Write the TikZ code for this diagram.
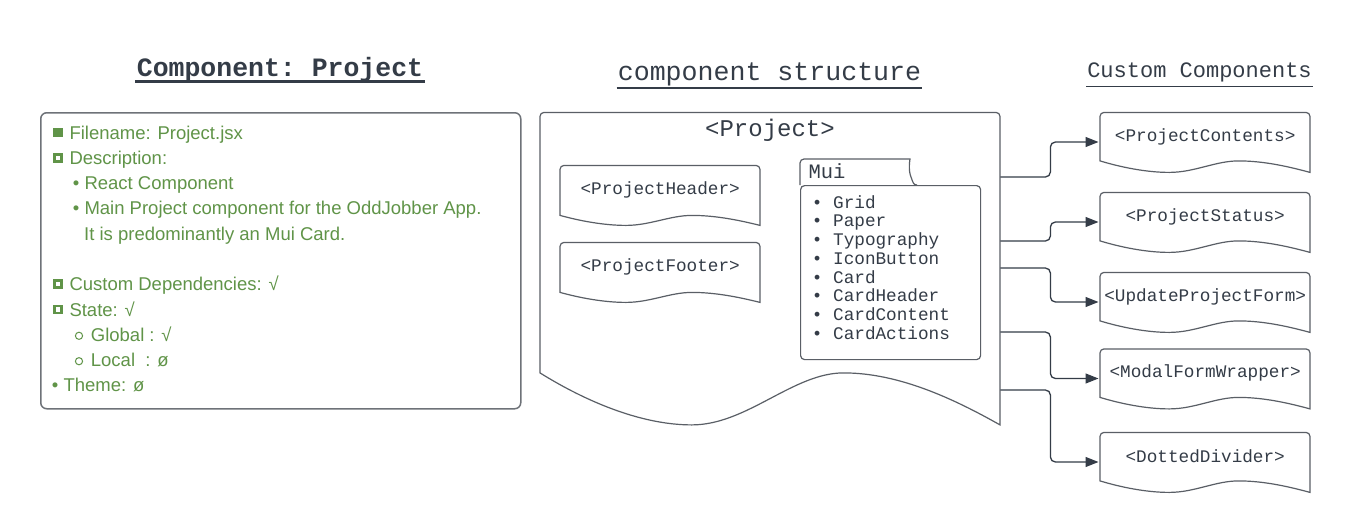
\documentclass[tikz,border=0pt]{standalone}
\usepackage{fontspec}
\setmainfont{Liberation Sans}
\setmonofont{Liberation Mono}
\usetikzlibrary{arrows.meta,calc}
\definecolor{ink}{RGB}{52,60,71}
\definecolor{grn}{RGB}{96,148,72}
\definecolor{edge}{RGB}{90,95,102}
\definecolor{frame}{RGB}{110,114,120}
\tikzset{
  docline/.style={draw=edge,line width=1.2pt},
  docnode/.style={inner sep=0pt,font=\fontsize{17.7}{20}\ttfamily,text=ink},
  conn/.style={draw=ink,line width=1.3pt,rounded corners=5pt,-{Triangle[length=13pt,width=10pt]}},
  info/.style={text=grn,font=\fontsize{18.5}{22}\selectfont,anchor=base west,inner sep=0pt},
  muiitem/.style={text=ink,font=\fontsize{17.7}{20}\ttfamily,anchor=base west,inner sep=0pt},
  headline/.style={text=ink,inner sep=0pt,anchor=base},
  marker/.style={grn},
  hollow/.style={draw=grn,line width=2.6pt},
}
\newcommand\docbox[7]{%
  \node[docnode,minimum width=#4pt,minimum height=#5pt,anchor=north west] (#1) at (#2,#3) {#7};
  \begin{scope}[shift={(#1.south west)}]
    \draw[docline] (0,0) [rounded corners=4pt] -- (0,-#5) -- (#4,-#5) [sharp corners] -- (#4,#6)
      .. controls (0.9*#4,0.5*#6) and (0.78*#4,0) .. (0.66*#4,0)
      .. controls (0.55*#4,0) and (0.45*#4,#6) .. (0.33*#4,#6)
      .. controls (0.22*#4,#6) and (0.1*#4,0.55*#6) .. (0,0) -- cycle;
  \end{scope}}
\begin{document}
\begin{tikzpicture}[x=1pt,y=-1pt]
\useasboundingbox[fill=white] (0,0) rectangle (1360,531);

% ---------- headings ----------
\node[headline,font=\fontsize{26.5}{30}\ttfamily\bfseries] (title) at (280,76) {Component: Project};
\draw[ink,line width=2.7pt] ($(title.base west)+(-1.5,5.3)$) -- ($(title.base east)+(1.5,5.3)$);
\node[headline,font=\fontsize{26.6}{30}\ttfamily] (cs) at (769.5,80) {component structure};
\draw[ink,line width=1.5pt] ($(cs.base west)+(-1,8)$) -- ($(cs.base east)+(1,8)$);
\node[headline,font=\fontsize{22}{26}\ttfamily] (cc) at (1199.5,77) {Custom Components};
\draw[ink,line width=1.5pt] ($(cc.base west)+(-1,9.5)$) -- ($(cc.base east)+(1,9.5)$);

% ---------- info box ----------
\node[draw=frame,line width=1.5pt,rounded corners=6pt,minimum width=480pt,minimum height=296pt,anchor=north west,inner sep=0pt] (infobox) at (40,112) {};
\fill[marker] (53,127.8) rectangle (62.5,137.3);
\node[info] (l1) at (69.3,139) {Filename: Project.jsx};
\draw[hollow] (54.3,154.3) rectangle (61.3,161.3);
\node[info] (l2) at (69.3,164.4) {Description:};
\node[info] (l3) at (72.7,189.6) {•\ React Component};
\node[info] (l4) at (72.7,214.8) {•\ Main Project component for the OddJobber App.};
\node[info] (l5) at (84,240.1) {It is predominantly an Mui Card.};
\draw[hollow] (54.3,280.7) rectangle (61.3,287.7);
\node[info] (l6) at (69.3,290.8) {Custom Dependencies: √};
\draw[hollow] (54.3,305.9) rectangle (61.3,312.9);
\node[info] (l7) at (69.3,316) {State: √};
\draw[grn,line width=1pt] (79,335.8) circle (3.6);
\node[info] (l8) at (90.7,341.2) {Global : √};
\draw[grn,line width=1pt] (79,361.2) circle (3.6);
\node[info] (l9) at (90.7,366.5) {Local\ \ : ø};
\node[info] (l10) at (51.7,391.8) {•\ Theme: ø};

% ---------- component structure ----------
\docbox{proj}{540}{112}{460}{260.5}{52}{}
\node[headline,font=\fontsize{24}{28}\ttfamily] (projtitle) at (770,136) {<Project>};
\docbox{ph}{560}{165}{200}{50}{10}{<ProjectHeader>}
\docbox{pf}{560}{242}{200}{50}{10}{<ProjectFooter>}

% Mui folder
\node[draw=edge,line width=1.2pt,rounded corners=4pt,minimum width=180pt,minimum height=174pt,anchor=north west,inner sep=0pt] (mui) at (800,185) {};
\draw[docline] (mui.north west) [rounded corners=4pt] -- ++(0,-26) -- ++(106,0) [sharp corners]
  .. controls ++(4,0) and ++(-3,-7) .. ++(5,18) .. controls ++(2,5) and ++(-4,0) .. ++(6,8);
\node[muiitem,font=\fontsize{20.5}{24}\ttfamily] (muititle) at (808.3,178.3) {Mui};
\foreach \t [count=\i from 0] in {Grid,Paper,Typography,IconButton,Card,CardHeader,CardContent,CardActions}
  \node[muiitem] (mui\i) at (811.7,208+18.75*\i) {•\ \t};

% ---------- custom components ----------
\docbox{c1}{1100}{112}{210}{48.5}{11.5}{<ProjectContents>}
\docbox{c2}{1100}{192}{210}{48.5}{11.5}{<ProjectStatus>}
\docbox{c3}{1100}{272}{210}{48.5}{11.5}{<UpdateProjectForm>}
\docbox{c4}{1100}{348.5}{210}{48.5}{11.5}{<ModalFormWrapper>}
\docbox{c5}{1100}{432}{210}{48.5}{11.5}{<DottedDivider>}

% ---------- connectors ----------
\foreach \n/\dy in {c1/65,c2/129,c3/156,c4/220,c5/278}
  \draw[conn] ($(proj.north east)+(0,\dy)$) -- ++(50,0) |- ($(\n.north west)+(-1.5,30)$);
\end{tikzpicture}
\end{document}
